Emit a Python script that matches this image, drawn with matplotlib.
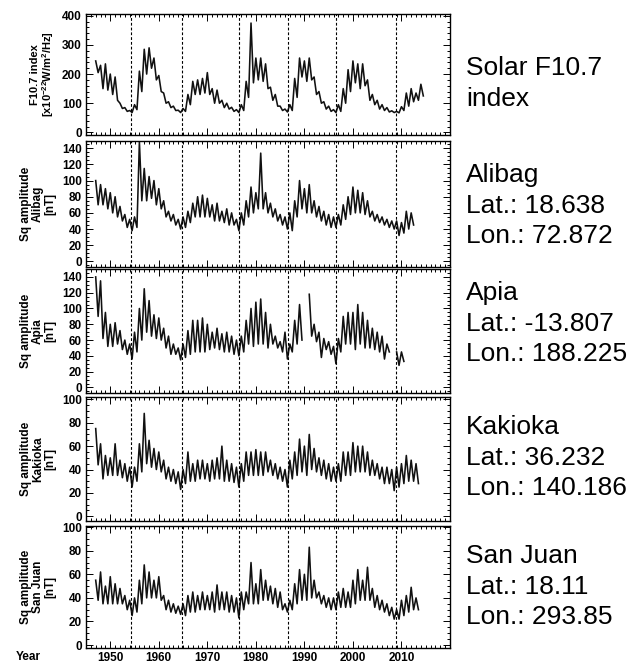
import numpy as np
import matplotlib
matplotlib.use('Agg')
import matplotlib.pyplot as plt
from matplotlib.ticker import MultipleLocator

plt.rcParams['font.family'] = ['Liberation Sans', 'DejaVu Sans']
plt.rcParams['mathtext.fontset'] = 'custom'
plt.rcParams['mathtext.rm'] = 'Liberation Sans:bold'
plt.rcParams['mathtext.it'] = 'Liberation Sans:bold'
plt.rcParams['mathtext.bf'] = 'Liberation Sans:bold'

# solar minima (dashed vertical lines)
solar_minima = [1954.3, 1964.8, 1976.5, 1986.7, 1996.6, 2008.9]
decade_ticks = [1950, 1960, 1970, 1980, 1990, 2000, 2010]

# each series: per-year high / low values
f107_years = np.arange(1947, 2015)
f107_hi = [245, 230, 235, 200, 190, 100, 85, 75, 95, 210, 285, 290, 255, 195, 135, 105, 90, 76, 82, 130,
           175, 180, 185, 205, 150, 145, 110, 100, 86, 78, 95, 175, 375, 255, 255, 235, 155, 130, 90, 80,
           95, 185, 255, 245, 255, 190, 140, 105, 90, 78, 95, 150, 215, 245, 235, 235, 180, 130, 110, 95,
           85, 74, 72, 88, 135, 150, 135, 165]
f107_lo = [205, 150, 145, 130, 110, 82, 72, 68, 78, 140, 200, 220, 180, 140, 100, 85, 75, 68, 72, 95,
           130, 130, 135, 130, 100, 100, 85, 80, 72, 68, 75, 120, 170, 180, 175, 150, 110, 90, 75, 70,
           75, 120, 190, 175, 180, 130, 100, 80, 72, 68, 72, 100, 140, 170, 150, 160, 110, 95, 80, 75,
           70, 68, 67, 75, 90, 105, 110, 125]

alibag_years = np.arange(1947, 2013)
alibag_hi = [100, 95, 90, 85, 80, 68, 58, 52, 55, 148, 115, 105, 100, 90, 75, 62, 58, 52, 55, 62,
             72, 80, 82, 78, 70, 72, 62, 65, 60, 52, 60, 75, 92, 85, 134, 85, 72, 65, 58, 55,
             60, 75, 100, 90, 95, 75, 68, 62, 58, 55, 58, 70, 80, 92, 88, 85, 75, 62, 58, 55,
             52, 50, 50, 48, 62, 60]
alibag_lo = [70, 70, 65, 60, 55, 50, 42, 38, 42, 75, 75, 78, 70, 65, 55, 50, 45, 40, 42, 48,
             55, 55, 55, 55, 50, 50, 48, 45, 45, 38, 45, 55, 60, 65, 65, 60, 55, 50, 45, 40,
             38, 55, 65, 60, 60, 55, 50, 45, 42, 42, 45, 52, 58, 60, 60, 58, 55, 50, 48, 45,
             42, 40, 32, 35, 40, 45]

apia_years = np.arange(1947, 2011)
apia_hi = [140, 135, 95, 80, 82, 72, 60, 55, 70, 100, 125, 110, 92, 88, 75, 65, 55, 50, 55, 72,
           85, 85, 88, 80, 70, 75, 68, 70, 65, 60, 65, 85, 100, 108, 112, 95, 80, 65, 58, 70,
           55, 85, 105, np.nan, 118, 80, 70, 62, 58, 52, 62, 90, 95, 95, 105, 95, 85, 75, 70, 65,
           55, np.nan, 45, 45]
apia_lo = [90, 62, 52, 52, 55, 48, 42, 36, 45, 60, 70, 65, 62, 60, 50, 42, 42, 35, 38, 42,
           45, 45, 45, 48, 50, 48, 45, 45, 42, 40, 45, 55, 52, 55, 55, 50, 55, 50, 45, 36,
           45, 55, 60, np.nan, 65, 58, 38, 48, 42, 30, 45, 55, 55, 48, 55, 50, 50, 48, 45, 36,
           45, np.nan, 28, 33]

kakioka_years = np.arange(1947, 2014)
kakioka_hi = [75, 62, 52, 50, 62, 48, 45, 42, 42, 62, 88, 65, 58, 55, 48, 42, 40, 38, 40, 55,
              45, 48, 48, 45, 48, 50, 60, 48, 45, 42, 45, 55, 55, 57, 55, 55, 48, 45, 42, 40,
              48, 55, 66, 60, 70, 58, 50, 48, 45, 42, 45, 55, 55, 63, 60, 60, 55, 48, 45, 42,
              42, 40, 42, 45, 52, 48, 45]
kakioka_lo = [44, 32, 35, 35, 35, 33, 30, 25, 30, 38, 45, 42, 40, 38, 32, 30, 28, 23, 28, 30,
              30, 32, 32, 30, 32, 32, 30, 30, 29, 25, 30, 35, 35, 35, 35, 38, 35, 32, 30, 25,
              32, 35, 38, 35, 40, 38, 35, 32, 30, 30, 30, 35, 35, 38, 38, 38, 35, 35, 32, 28,
              28, 22, 25, 28, 30, 30, 28]

sanjuan_years = np.arange(1947, 2014)
sanjuan_hi = [55, 62, 50, 58, 52, 48, 42, 38, 40, 55, 68, 62, 55, 58, 42, 38, 35, 33, 35, 42,
              45, 42, 45, 42, 45, 51, 45, 45, 42, 40, 45, 45, 70, 52, 64, 55, 50, 48, 45, 35,
              38, 52, 64, 60, 83, 55, 45, 42, 40, 40, 45, 48, 45, 55, 64, 55, 66, 48, 42, 38,
              35, 32, 30, 38, 42, 49, 40]
sanjuan_lo = [38, 35, 35, 35, 35, 35, 30, 25, 28, 35, 40, 40, 40, 38, 30, 28, 27, 26, 25, 28,
              28, 30, 30, 30, 28, 30, 30, 28, 28, 23, 30, 35, 35, 35, 38, 38, 35, 32, 30, 28,
              30, 35, 38, 38, 40, 40, 35, 32, 30, 30, 32, 32, 32, 35, 38, 38, 38, 32, 30, 28,
              25, 22, 22, 25, 28, 30, 30]

panels = [
    (f107_years, f107_hi, f107_lo, (-9, 406), 100, 20,
     'F10.7 index\n[x10$^{-22}$W/m$^2$/Hz]', ['Solar F10.7', 'index'], 400, 75),
    (alibag_years, alibag_hi, alibag_lo, (-7, 149), 20, 5,
     'Sq amplitude\nAlibag\n[nT]', ['Alibag', 'Lat.: 18.638', 'Lon.: 72.872'], 140, 182),
    (apia_years, apia_hi, apia_lo, (-7, 150), 20, 5,
     'Sq amplitude\nApia\n[nT]', ['Apia', 'Lat.: -13.807', 'Lon.: 188.225'], 140, 300),
    (kakioka_years, kakioka_hi, kakioka_lo, (-4, 102), 20, 5,
     'Sq amplitude\nKakioka\n[nT]', ['Kakioka', 'Lat.: 36.232', 'Lon.: 140.186'], 100, 434),
    (sanjuan_years, sanjuan_hi, sanjuan_lo, (-2.5, 101), 20, 5,
     'Sq amplitude\nSan Juan\n[nT]', ['San Juan', 'Lat.: 18.11', 'Lon.: 293.85'], 100, 563),
]

# panel top / bottom edges in pixels
edges = [(14, 135), (141, 267), (269, 393), (397, 521), (526, 648)]

W, H = 636, 664
fig = plt.figure(figsize=(W / 100, H / 100), dpi=100)
left, right = 86, 450

for i, (yrs, hi, lo, ylim, major, minor, ylab, rlines, ymax, base) in enumerate(panels):
    top, bot = edges[i]
    ax = fig.add_axes([left / W, 1 - bot / H, (right - left) / W, (bot - top) / H])

    t = np.column_stack([yrs, yrs + 0.5]).ravel()
    v = np.column_stack([hi, lo]).ravel()
    ax.plot(t, v, color='#111111', lw=1.15)

    for m in solar_minima:
        ax.axvline(m, color='black', lw=0.8, ls=(0, (2.5, 1.8)))

    ax.set_xlim(1945, 2020)
    ax.set_ylim(*ylim)
    ax.set_xticks(decade_ticks)
    ax.xaxis.set_minor_locator(MultipleLocator(1))
    ax.set_yticks(np.arange(0, ymax + 1, major))
    ax.yaxis.set_minor_locator(MultipleLocator(minor))
    ax.tick_params(which='both', direction='in', top=True, right=True, width=0.7)
    ax.tick_params(which='major', length=5, labelsize=8.5, pad=3)
    ax.tick_params(which='minor', length=2.5)
    for lab in ax.get_yticklabels() + ax.get_xticklabels():
        lab.set_fontweight('bold')
    for s in ax.spines.values():
        s.set_linewidth(1.0)
    if i < 4:
        ax.set_xticklabels([])

    fs = 8 if i == 0 else 8.5
    fig.text(56 / W, 1 - (top + bot) / 2 / H, ylab, rotation=90, ha='right', va='center',
             multialignment='center', fontsize=fs, fontweight='bold', linespacing=1.0)
    for k, line in enumerate(rlines):
        fig.text(466 / W, 1 - (base + 30.7 * k) / H, line, ha='left', va='baseline',
                 fontsize=19)

fig.text(28 / W, 1 - 657 / H, 'Year', ha='center', va='center', fontsize=8.5, fontweight='bold')

plt.savefig('out.png', dpi=100)
